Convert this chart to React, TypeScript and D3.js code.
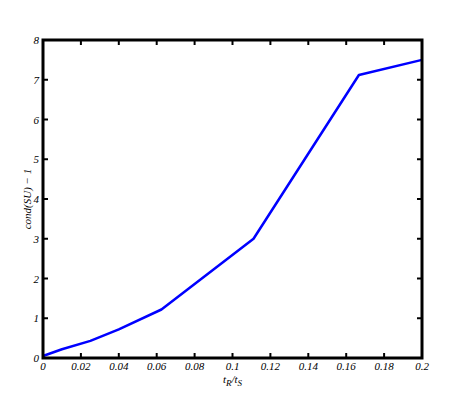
import { useEffect, useRef } from "react"
import * as d3 from "d3"

// values
const ratio = [0, 0.01, 0.025, 0.04, 0.0625, 0.1111, 0.1667, 0.2]
const condMinusOne = [0.05, 0.22, 0.43, 0.72, 1.22, 3.0, 7.12, 7.5]
const xTicks = [0, 0.02, 0.04, 0.06, 0.08, 0.1, 0.12, 0.14, 0.16, 0.18, 0.2]
const yTicks = [0, 1, 2, 3, 4, 5, 6, 7, 8]

export default function App() {
  const svgRef = useRef<SVGSVGElement>(null)

  useEffect(() => {
    const svg = d3.select(svgRef.current)
    const width = 464
    const height = 409
    const margin = { top: 40, right: 42, bottom: 51, left: 43 }
    const font = "Liberation Serif, Times New Roman, DejaVu Serif, serif"

    svg.selectAll("*").remove()
    svg.attr("width", width).attr("height", height)
      .style("font-family", font)
      .style("font-style", "italic")

    const x = d3.scaleLinear().domain([0, 0.2]).range([margin.left, width - margin.right])
    const y = d3.scaleLinear().domain([0, 8]).range([height - margin.bottom, margin.top])

    // ticks, inward on all four sides
    const g = svg.append("g").attr("stroke", "#000").attr("stroke-width", 2)
    xTicks.forEach(t => {
      g.append("line").attr("x1", x(t)).attr("x2", x(t)).attr("y1", y(0)).attr("y2", y(0) - 5)
      g.append("line").attr("x1", x(t)).attr("x2", x(t)).attr("y1", y(8)).attr("y2", y(8) + 5)
    })
    yTicks.forEach(t => {
      g.append("line").attr("x1", x(0)).attr("x2", x(0) + 5).attr("y1", y(t)).attr("y2", y(t))
      g.append("line").attr("x1", x(0.2)).attr("x2", x(0.2) - 5).attr("y1", y(t)).attr("y2", y(t))
    })

    // line
    const line = d3.line<number>()
      .x((_, i) => x(ratio[i]))
      .y(d => y(d))

    svg.append("path")
      .datum(condMinusOne)
      .attr("fill", "none")
      .attr("stroke", "#0000ff")
      .attr("stroke-width", 2.5)
      .attr("stroke-linejoin", "round")
      .attr("d", line)

    // box
    svg.append("rect")
      .attr("x", x(0))
      .attr("y", y(8))
      .attr("width", x(0.2) - x(0))
      .attr("height", y(0) - y(8))
      .attr("fill", "none")
      .attr("stroke", "#000")
      .attr("stroke-width", 3)

    // tick labels
    svg.append("g")
      .selectAll("text")
      .data(xTicks)
      .join("text")
      .attr("x", d => x(d))
      .attr("y", y(0) + 12)
      .attr("text-anchor", "middle")
      .attr("font-size", 11)
      .text(d => String(d))

    svg.append("g")
      .selectAll("text")
      .data(yTicks)
      .join("text")
      .attr("x", x(0) - 4)
      .attr("y", d => y(d) + 4)
      .attr("text-anchor", "end")
      .attr("font-size", 11)
      .text(d => d)

    // axis labels
    const xl = svg.append("text")
      .attr("x", x(0.1))
      .attr("y", y(0) + 25)
      .attr("text-anchor", "middle")
      .attr("font-size", 11)
    xl.append("tspan").text("t")
    xl.append("tspan").attr("dy", 3).attr("font-size", 9).text("R")
    xl.append("tspan").attr("dy", -3).text("/t")
    xl.append("tspan").attr("dy", 3).attr("font-size", 9).text("S")

    svg.append("text")
      .attr("transform", `translate(31,${y(4)}) rotate(-90)`)
      .attr("text-anchor", "middle")
      .attr("font-size", 11)
      .text("cond(SU) \u2212 1")
  }, [])

  return <svg ref={svgRef} style={{ position: "absolute", left: 0, top: 0 }} />
}
